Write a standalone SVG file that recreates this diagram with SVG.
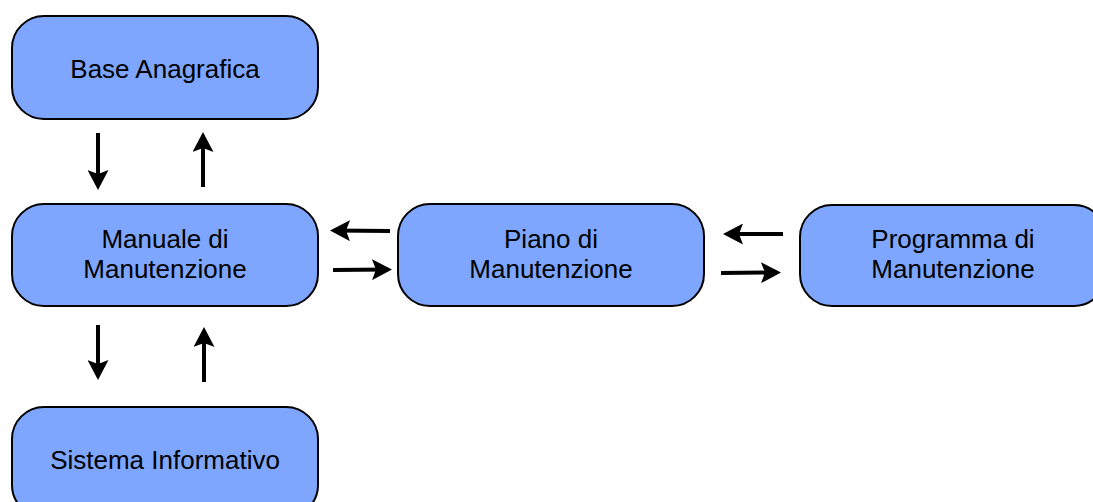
<svg xmlns="http://www.w3.org/2000/svg" width="1093" height="502" viewBox="0 0 1093 502">
<style>
.box{fill:#7ea6ff;stroke:#000;stroke-width:2}
.lbl{font-family:"Liberation Sans",Arial,sans-serif;font-size:26px;fill:#000;text-anchor:middle}
.arr{stroke:#000;stroke-width:4;fill:none;marker-end:url(#ah)}
</style>
<defs>
<marker id="ah" viewBox="0 0 20 21" refX="16" refY="10.5" markerWidth="20" markerHeight="21" orient="auto" markerUnits="userSpaceOnUse">
<path d="M0,0 L20,10.5 L0,21 L4,10.5 Z" fill="#000"/>
</marker>
</defs>
<rect width="1093" height="502" fill="#fff"/>
<g id="base">
<rect class="box" x="12" y="16" width="306" height="103" rx="32"/>
<text class="lbl" x="165" y="78">Base Anagrafica</text>
</g>
<g id="manuale">
<rect class="box" x="12" y="204" width="306" height="102" rx="32"/>
<text class="lbl" x="165" y="248">Manuale di</text>
<text class="lbl" x="165" y="278">Manutenzione</text>
</g>
<g id="piano">
<rect class="box" x="398" y="204" width="306" height="102" rx="32"/>
<text class="lbl" x="551" y="248">Piano di</text>
<text class="lbl" x="551" y="278">Manutenzione</text>
</g>
<g id="programma">
<rect class="box" x="800" y="205" width="306" height="101" rx="32"/>
<text class="lbl" x="953" y="248">Programma di</text>
<text class="lbl" x="953" y="278">Manutenzione</text>
</g>
<g id="sistema">
<rect class="box" x="12" y="407" width="306" height="110" rx="32"/>
<text class="lbl" x="165" y="469">Sistema Informativo</text>
</g>
<g id="connectors">
<line class="arr" x1="98" y1="133" x2="98" y2="186"/>
<line class="arr" x1="203" y1="187" x2="203" y2="136"/>
<line class="arr" x1="98" y1="325" x2="98" y2="376"/>
<line class="arr" x1="204" y1="382" x2="204" y2="331"/>
<line class="arr" x1="390" y1="231" x2="334" y2="230.5"/>
<line class="arr" x1="333" y1="270" x2="388" y2="269.5"/>
<line class="arr" x1="783" y1="234" x2="727" y2="234"/>
<line class="arr" x1="721" y1="273" x2="777" y2="272.5"/>
</g>
</svg>
